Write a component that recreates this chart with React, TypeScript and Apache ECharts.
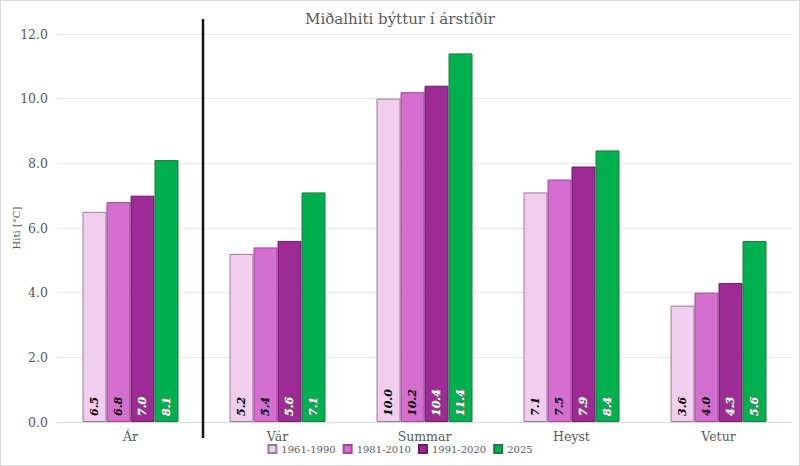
import React, { useRef, useEffect } from 'react'
import * as echarts from 'echarts'

const categories = ['Ár', 'Vár', 'Summar', 'Heyst', 'Vetur']
const periods = ['1961-1990', '1981-2010', '1991-2020', '2025']
const v1961 = [6.5, 5.2, 10.0, 7.1, 3.6]
const v1981 = [6.8, 5.4, 10.2, 7.5, 4.0]
const v1991 = [7.0, 5.6, 10.4, 7.9, 4.3]
const v2025 = [8.1, 7.1, 11.4, 8.4, 5.6]

const fills = ['#f1cdee', '#d56fcf', '#9e2a96', '#00b04f']
const borders = ['#9c7d99', '#9a4a96', '#6b1c66', '#1e7a40']
const serif = '"DejaVu Serif", "Liberation Serif", serif'
const BAR_W = 24

const App: React.FC = () => {
  const chartRef = useRef<HTMLDivElement>(null)

  useEffect(() => {
    if (!chartRef.current) return
    document.body.style.margin = '0'
    const chart = echarts.init(chartRef.current, undefined, { renderer: 'svg' })

    const seriesData = [v1961, v1981, v1991, v2025]
    const bars: any[] = seriesData.map((d, i) => ({
      name: periods[i],
      type: 'bar',
      data: d,
      barWidth: BAR_W,
      barGap: '0%',
      itemStyle: { color: fills[i], borderColor: borders[i], borderWidth: 1 }
    }))

    // rotated value labels at the foot of each bar
    const labels: any[] = seriesData.map((d, i) => ({
      name: 'lbl' + i,
      type: 'custom',
      silent: true,
      z: 10,
      data: d.map((v, k) => [k, v]),
      renderItem: (params: any, api: any) => {
        const base = api.coord([api.value(0), 0])
        const x = base[0] + (i - 1.5) * BAR_W
        return {
          type: 'text',
          x,
          y: base[1] - 6,
          rotation: Math.PI / 2,
          style: {
            text: api.value(1).toFixed(1),
            align: 'left',
            verticalAlign: 'middle',
            fontFamily: serif,
            fontStyle: 'italic',
            fontWeight: 'bold',
            fontSize: 11,
            fill: i < 2 ? '#000' : '#fff',
            stroke: i < 2 ? null : '#7a7a7a',
            lineWidth: i < 2 ? 0 : 1.2
          }
        }
      }
    }))

    chart.setOption({
      animation: false,
      title: {
        text: 'Miðalhiti býttur í árstíðir',
        left: 'center',
        top: 5,
        textStyle: { fontFamily: serif, fontWeight: 'normal', fontSize: 15, color: '#595959' }
      },
      legend: {
        data: periods,
        bottom: 6,
        left: 'center',
        icon: 'rect',
        itemWidth: 8,
        itemHeight: 8,
        itemGap: 7,
        textStyle: { fontFamily: serif, fontSize: 10, color: '#595959' }
      },
      grid: { left: 56, right: 7, top: 33, bottom: 43, outerBoundsMode: 'none' },
      xAxis: {
        type: 'category',
        data: categories,
        axisLine: { lineStyle: { color: '#d9d9d9' } },
        axisTick: { show: false },
        axisLabel: { fontFamily: serif, fontSize: 12.5, color: '#595959', margin: 8 }
      },
      yAxis: {
        type: 'value',
        min: 0,
        max: 12,
        interval: 2,
        name: 'Hiti [°C]',
        nameLocation: 'middle',
        nameGap: 36,
        nameMoveOverlap: false,
        nameTextStyle: { fontFamily: serif, fontSize: 10, color: '#595959' },
        axisLabel: { fontFamily: serif, fontSize: 12.5, color: '#595959', margin: 9, formatter: (v: number) => v.toFixed(1) },
        splitLine: { lineStyle: { color: '#e8e8e8' } }
      },
      series: [...bars, ...labels]
    })

    // separator between "Ár" and the seasons
    const c0 = chart.convertToPixel({ xAxisIndex: 0 }, categories[0]) as number
    const c1 = chart.convertToPixel({ xAxisIndex: 0 }, categories[1]) as number
    const sepX = (c0 + c1) / 2 - 1
    chart.setOption({
      graphic: [
        {
          type: 'line',
          shape: { x1: sepX, y1: 18, x2: sepX, y2: 437 },
          style: { stroke: '#111', lineWidth: 2.5 },
          z: 100
        }
      ]
    })

    return () => {
      chart.dispose()
    }
  }, [])

  return (
    <div
      style={{ width: 800, height: 466, boxSizing: 'border-box', border: '1px solid #d9d9d9', background: '#fff' }}
    >
      <div ref={chartRef} style={{ width: 798, height: 464 }} />
    </div>
  )
}

export default App
